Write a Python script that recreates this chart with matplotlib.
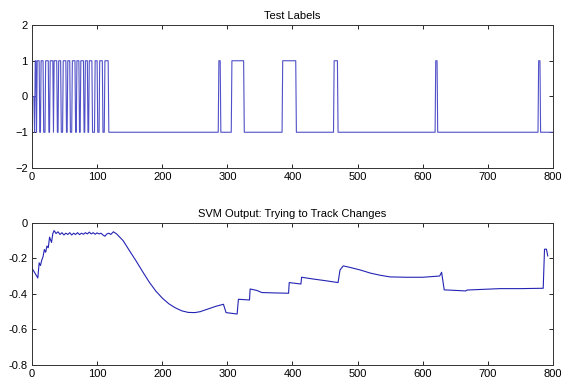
import numpy as np
import matplotlib
matplotlib.use("Agg")
import matplotlib.pyplot as plt

plt.rcParams['font.family'] = ['Liberation Sans', 'DejaVu Sans']

# ---- data: top panel (test labels) ----
n_samples = 800
initial_zero_len = 4
pulse_starts = [5, 8, 14, 21, 28, 34, 41, 48, 55, 62, 69, 75, 82, 88, 97, 104, 112,
                287, 307, 385, 464, 620, 778]
pulse_ends   = [6, 11, 17, 25, 32, 38, 44, 52, 58, 66, 72, 79, 85, 92, 100, 108, 117,
                289, 325, 405, 469, 622, 780]

# ---- data: bottom panel (SVM output) ----
svm_x = [0, 9, 11, 13, 15, 17, 19, 21, 23, 25, 27, 30, 32, 34,
         37, 40, 43, 46, 49, 52, 55, 58, 61, 64, 67, 70, 73, 76, 79, 82, 85, 88,
         91, 94, 97, 100, 103, 106, 109, 112, 115, 118, 121, 125,
         130, 140, 150, 160, 170, 180, 190, 200, 210, 220, 230, 240, 250, 258,
         270, 282, 294, 298, 315, 317, 334, 335, 345, 353, 370, 394, 395, 413, 414,
         430, 450, 470, 473, 478, 490, 504, 520, 535, 550, 575, 600, 626, 629, 633,
         650, 666, 668, 693, 719, 750, 785, 787, 790, 792]
svm_y = [-0.255, -0.31, -0.225, -0.24, -0.21, -0.19, -0.15, -0.165, -0.13, -0.14, -0.08, -0.11, -0.06, -0.043,
         -0.06, -0.05, -0.065, -0.055, -0.068, -0.058, -0.065, -0.055, -0.068, -0.058, -0.065, -0.055, -0.066, -0.058, -0.064, -0.055, -0.062, -0.052,
         -0.062, -0.055, -0.064, -0.056, -0.062, -0.058, -0.068, -0.075, -0.062, -0.058, -0.065, -0.05,
         -0.062, -0.10, -0.158, -0.215, -0.275, -0.333, -0.383, -0.423, -0.455, -0.478, -0.495, -0.504, -0.505, -0.50,
         -0.485, -0.47, -0.458, -0.505, -0.513, -0.43, -0.434, -0.372, -0.38, -0.392, -0.394, -0.396, -0.336, -0.344, -0.306,
         -0.315, -0.325, -0.336, -0.265, -0.242, -0.252, -0.265, -0.283, -0.295, -0.304, -0.306, -0.306, -0.299, -0.278, -0.377,
         -0.38, -0.383, -0.378, -0.374, -0.37, -0.37, -0.368, -0.148, -0.148, -0.186]

# build label series from the read intervals
labels = np.full(n_samples, -1.0)
labels[:initial_zero_len] = 0.0
for s, e in zip(pulse_starts, pulse_ends):
    labels[s:e + 1] = 1.0
sample_idx = np.arange(n_samples)

top_color = '#5050c8'
bottom_color = '#2424b4'

fig = plt.figure(figsize=(5.61, 3.84), dpi=100)
ax1 = fig.add_axes([0.057, 0.5625, 0.9287, 0.3724])
ax2 = fig.add_axes([0.057, 0.0495, 0.9287, 0.370])

ax1.plot(sample_idx, labels, color=top_color, linewidth=0.8)
ax1.set_xlim(0, 800)
ax1.set_ylim(-2, 2)
ax1.set_xticks(range(0, 801, 100))
ax1.set_yticks([-2, -1, 0, 1, 2])
ax1.set_title('Test Labels', fontsize=8, pad=4)

ax2.plot(svm_x, svm_y, color=bottom_color, linewidth=0.8)
ax2.set_xlim(0, 800)
ax2.set_ylim(-0.8, 0)
ax2.set_xticks(range(0, 801, 100))
ax2.set_yticks([-0.8, -0.6, -0.4, -0.2, 0])
ax2.set_yticklabels(['-0.8', '-0.6', '-0.4', '-0.2', '0'])
ax2.set_title('SVM Output: Trying to Track Changes', fontsize=8, pad=4)

for ax in (ax1, ax2):
    ax.tick_params(direction='in', top=True, right=True, labelsize=8,
                   length=3, width=0.6, pad=3)
    for sp in ax.spines.values():
        sp.set_linewidth(0.7)
        sp.set_color('#333333')

fig.savefig('out.png', dpi=100)
